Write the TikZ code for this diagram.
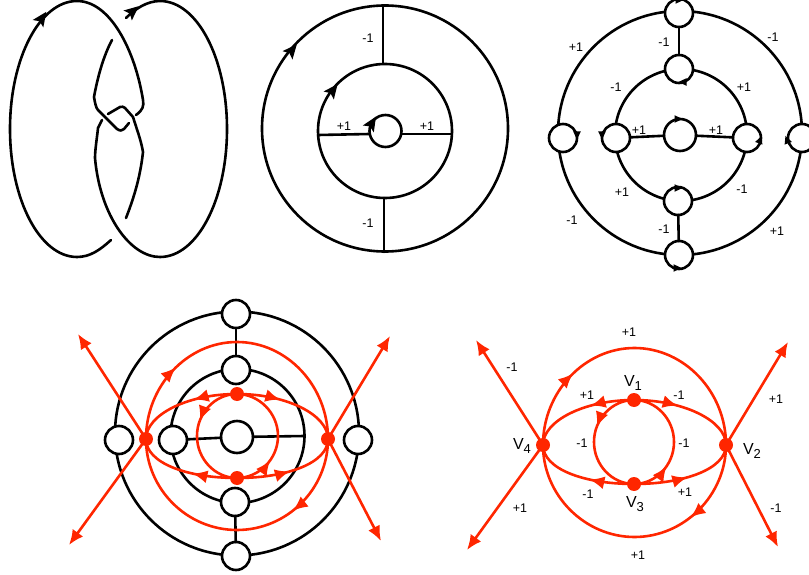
\documentclass[tikz,border=0pt]{standalone}
\usepackage{fontspec}
\setmainfont{Liberation Sans}
\usetikzlibrary{arrows.meta,decorations.markings,bending}
\definecolor{redline}{RGB}{255,38,0}
\newcommand{\tipat}[3]{\fill[shift={(#1,#2)},rotate=#3] (7.5,0) -- (-7,6.5) -- (-4,0) -- (-7,-6.5) -- cycle;}
\newcommand{\mintip}[3]{\fill[shift={(#1,#2)},rotate=#3] (4.5,0) -- (-3.5,3.8) -- (-3.5,-3.8) -- cycle;}
\newcommand{\Vlab}[1]{V\raisebox{-4pt}{\fontsize{13}{13}\selectfont #1}}
\tikzset{
  x=1pt,y=-1pt,
  ink/.style={line width=2.6pt,line cap=round,line join=round},
  ring/.style={circle,draw,line width=2.6pt,inner sep=0pt,outer sep=0pt,minimum size=#1},
  disc/.style={circle,draw,fill=white,line width=2.6pt,inner sep=0pt,outer sep=0pt,minimum size=#1},
  lab/.style={font=\fontsize{12.5}{12.5}\selectfont,inner sep=0pt},
  vlab/.style={font=\fontsize{16}{16}\selectfont,inner sep=0pt},
  dot/.style={circle,fill=redline,inner sep=0pt,outer sep=0pt,minimum size=14pt},
  redink/.style={draw=redline,line width=2.6pt,line cap=round},
  ray/.style={redink,-{Latex[length=15pt,width=13pt]}},
  mid/.style={postaction={decorate},decoration={markings,mark=at position #1 with {\arrow{Latex[length=15pt,width=13pt,color=redline]}}}},
}
\begin{document}
\begin{tikzpicture}
\useasboundingbox (0,0) rectangle (809,575);
% --- knot
\draw[ink] (111,240) .. controls (100,250) and (90,257) .. (77,257) .. controls (40,257) and (10,200) .. (10,129) .. controls (10,58) and (40,1) .. (77,1) .. controls (110,1) and (135,50) .. (143,100) .. controls (144,106) and (143,110) .. (136,115);
\draw[ink] (126,18) .. controls (135,9) and (147,1) .. (160,1) .. controls (197,1) and (227,58) .. (227,129) .. controls (227,200) and (197,257) .. (160,257) .. controls (130,257) and (100,215) .. (95,158) .. controls (95,150) and (97,138) .. (98,128) -- (102,120);
\draw[ink] (112,40) .. controls (104,55) and (98,75) .. (94,97) .. controls (95,103) and (96,108) .. (98,110) -- (117,129) .. controls (120,131) and (122,131) .. (124,129) -- (129,123);
\draw[ink] (108,114) -- (120,107) .. controls (122,106) and (124,107) .. (125,108) -- (133,117) .. controls (137,130) and (141,140) .. (143,152) .. controls (141,170) and (137,190) .. (126,218);
\tipat{42}{18}{55}
\tipat{133}{11}{40}
% --- second panel
\node[ring=246pt] (bo) at (385,128.5) {};
\node[ring=134pt] (bi) at (385,131) {};
\node[disc=32pt] (bs) at (385.5,131) {};
\coordinate (bt) at (383,6);
\coordinate (bb) at (384,252);
\draw[ink] (bt) -- (383,63);
\draw[ink] (384,198) -- (bb);
\draw[ink] (bi.west) ++(0,4) -- ([yshift=-3pt]bs.west);
\draw[ink] (bs.east) ++(0,3) -- ([yshift=-3pt]bi.east);
\tipat{292}{50}{50}
\tipat{333}{90}{52}
\tipat{372}{123}{58}
\node[lab] (b1) at (368,38) {-1};
\node[lab] (b2) at (344,126) {+1};
\node[lab] (b3) at (427,126) {+1};
\node[lab] (b4) at (368,223) {-1};
% --- third panel
\node[ring=244pt] (co) at (680,133) {};
\node[ring=132pt] (ci) at (681,135) {};
\node[disc=28pt] (c1) at (679,13) {};
\node[disc=28pt] (c2) at (679,69) {};
\node[disc=32pt] (c3) at (680,135) {};
\node[disc=28pt] (c4) at (563,138) {};
\node[disc=28pt] (c5) at (616,138) {};
\node[disc=28pt] (c6) at (747,138) {};
\node[disc=28pt] (c7) at (802,138) {};
\node[disc=28pt] (c8) at (678,201) {};
\node[disc=28pt] (c9) at (679,255) {};
\draw[ink] (c1) -- (c2);
\draw[ink] (c5) -- (c3);
\draw[ink] (c3) -- (c6);
\draw[ink] (c8) -- (c9);
\mintip{679}{0}{0}
\mintip{683}{82}{180}
\mintip{678}{119}{0}
\mintip{577}{135}{-90}
\mintip{602}{135}{-90}
\mintip{760}{140}{70}
\mintip{787}{140}{110}
\mintip{678}{188}{0}
\mintip{677}{268}{0}
\node[lab] at (664,42) {-1};
\node[lab] at (576,47) {+1};
\node[lab] at (773,37) {-1};
\node[lab] at (616,87) {-1};
\node[lab] at (744,87) {+1};
\node[lab] at (639,130) {+1};
\node[lab] at (716,130) {+1};
\node[lab] at (622,192) {+1};
\node[lab] at (742,189) {-1};
\node[lab] at (572,220) {-1};
\node[lab] at (664,229) {-1};
\node[lab] at (777,231) {+1};
% --- fourth panel
\node[ring=244pt] (do) at (237,433.5) {};
\node[ring=134pt] (di) at (237.5,436) {};
\node[disc=28pt] (d1) at (236,314) {};
\node[disc=28pt] (d2) at (236,370) {};
\node[disc=32pt] (d3) at (237,437) {};
\node[disc=28pt] (d4) at (119,440) {};
\node[disc=28pt] (d5) at (173,440) {};
\node[disc=28pt] (d6) at (358,440) {};
\node[disc=28pt] (d7) at (235,502) {};
\node[disc=28pt] (d8) at (236,556) {};
\draw[ink] (d1) -- (d2);
\draw[ink] (d5) -- (d3);
\draw[ink] (d3) -- (di.east);
\draw[ink] (d7) -- (d8);
\node[dot] (dt) at (237,394) {};
\node[dot] (db) at (237,478) {};
\node[dot] (dl) at (146,439) {};
\node[dot] (dr) at (328,439) {};
\coordinate (da) at (237,342);
\coordinate (dz) at (237,530);
\coordinate (dq1) at (78,334);
\coordinate (dq2) at (390,336);
\coordinate (dq3) at (69,545);
\coordinate (dq4) at (381,541);
\draw[redink,mid=0.27] (dl.center) .. controls +(0,-53) and +(-50,0) .. (da) .. controls +(50,0) and +(0,-53) .. (dr.center);
\draw[redink,mid=0.29] (dr.center) .. controls +(0,50) and +(50,0) .. (dz) .. controls +(-50,0) and +(0,50) .. (dl.center);
\draw[redink,mid=0.4] (dt.center) .. controls +(-50,0) and +(0,-24) .. (dl.center);
\draw[redink,mid=0.4] (dt.center) .. controls +(50,0) and +(0,-24) .. (dr.center);
\draw[redink,mid=0.42] (db.center) .. controls +(-50,0) and +(0,24) .. (dl.center);
\draw[redink,mid=0.5] (db.center) .. controls +(50,0) and +(0,24) .. (dr.center);
\draw[redink,mid=0.38] (dt.center) .. controls +(-22,0) and +(0,-23) .. (197,436) .. controls +(0,23) and +(-22,0) .. (db.center);
\draw[redink,mid=0.3] (db.center) .. controls +(22,0) and +(0,23) .. (278,436) .. controls +(0,-23) and +(22,0) .. (dt.center);
\draw[ray] (dl.center) -- (dq1);
\draw[ray] (dr.center) -- (dq2);
\draw[ray] (dl.center) -- (dq3);
\draw[ray] (dr.center) -- (dq4);
% --- fifth panel
\node[dot] (v1) at (634,400) {};
\node[dot] (v3) at (634,484) {};
\node[dot] (v4) at (543,445) {};
\node[dot] (v2) at (726,445) {};
\coordinate (ea) at (634.5,348);
\coordinate (ez) at (634.5,537);
\coordinate (eq1) at (476,340);
\coordinate (eq2) at (788,342);
\coordinate (eq3) at (467,550);
\coordinate (eq4) at (778,547);
\draw[redink,mid=0.27] (v4.center) .. controls +(0,-53) and +(-50,0) .. (ea) .. controls +(50,0) and +(0,-53) .. (v2.center);
\draw[redink,mid=0.29] (v2.center) .. controls +(0,50) and +(50,0) .. (ez) .. controls +(-50,0) and +(0,50) .. (v4.center);
\draw[redink,mid=0.4] (v1.center) .. controls +(-50,0) and +(0,-24) .. (v4.center);
\draw[redink,mid=0.4] (v1.center) .. controls +(50,0) and +(0,-24) .. (v2.center);
\draw[redink,mid=0.42] (v3.center) .. controls +(-50,0) and +(0,24) .. (v4.center);
\draw[redink,mid=0.5] (v3.center) .. controls +(50,0) and +(0,24) .. (v2.center);
\draw[redink,mid=0.38] (v1.center) .. controls +(-22,0) and +(0,-23) .. (594,442) .. controls +(0,23) and +(-22,0) .. (v3.center);
\draw[redink,mid=0.3] (v3.center) .. controls +(22,0) and +(0,23) .. (674,442) .. controls +(0,-23) and +(22,0) .. (v1.center);
\draw[ray] (v4.center) -- (eq1);
\draw[ray] (v2.center) -- (eq2);
\draw[ray] (v4.center) -- (eq3);
\draw[ray] (v2.center) -- (eq4);
\node[lab] at (629,332) {+1};
\node[lab] at (512,367) {-1};
\node[lab] at (776,399) {+1};
\node[lab] at (587,395) {+1};
\node[lab] at (679,395) {-1};
\node[lab] at (582,443) {-1};
\node[lab] at (684,443) {-1};
\node[lab] at (588,494) {-1};
\node[lab] at (685,492) {+1};
\node[lab] at (520,508) {+1};
\node[lab] at (776,508) {-1};
\node[lab] at (638,555) {+1};
\node[vlab] at (633,383) {\Vlab{1}};
\node[vlab] at (522,446) {\Vlab{4}};
\node[vlab] at (752,451) {\Vlab{2}};
\node[vlab] at (635,504) {\Vlab{3}};
\end{tikzpicture}
\end{document}
